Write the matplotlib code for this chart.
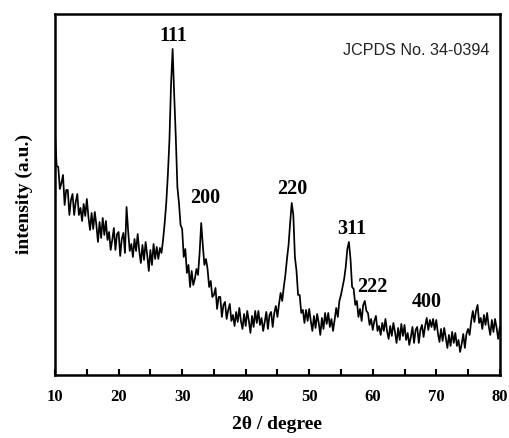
import numpy as np
import matplotlib.pyplot as plt

# 2theta grid, 0.25 degree step, 10 to 80
two_theta = np.arange(10, 80.001, 0.25)

# intensity (arbitrary units), one row per degree
intensity = [
    240, 209, 208, 186,   # 10
    192, 200, 170, 185,   # 11
    185, 160, 175, 181,   # 12
    160, 173, 181, 160,   # 13
    167, 154, 171, 159,   # 14
    176, 158, 145, 162,   # 15
    146, 163, 150, 133,   # 16
    153, 137, 157, 140,   # 17
    154, 135, 143, 125,   # 18
    135, 147, 125, 141,   # 19
    143, 119, 136, 142,   # 20
    122, 168, 144, 124,   # 21
    131, 118, 136, 124,   # 22
    141, 124, 112, 130,   # 23
    115, 133, 120, 104,   # 24
    125, 110, 131, 116,   # 25
    128, 116, 127, 122,   # 26
    135, 152, 172, 200,   # 27
    235, 290, 326, 280,   # 28
    238, 188, 172, 150,   # 29
    146, 118, 126, 102,   # 30
    110, 88, 104, 90,     # 31
    96, 106, 100, 122,    # 32
    152, 130, 110, 116,   # 33
    106, 88, 94, 78,      # 34
    80, 87, 66, 78,       # 35
    78, 58, 70, 73,       # 36
    56, 65, 71, 54,       # 37
    60, 49, 63, 53,       # 38
    67, 54, 46, 61,       # 39
    49, 64, 54, 42,       # 40
    59, 48, 64, 52,       # 41
    64, 50, 57, 44,       # 42
    53, 63, 46, 60,       # 43
    63, 48, 62, 69,       # 44
    58, 71, 82, 74,       # 45
    88, 100, 116, 130,    # 46
    152, 172, 160, 118,   # 47
    104, 80, 80, 62,      # 48
    65, 52, 65, 54,       # 49
    66, 54, 44, 59,       # 50
    47, 61, 52, 40,       # 51
    57, 46, 62, 51,       # 52
    62, 48, 56, 44,       # 53
    55, 67, 58, 74,       # 54
    80, 88, 96, 108,      # 55
    126, 133, 116, 88,    # 56
    86, 70, 74, 58,       # 57
    66, 54, 70, 74,       # 58
    64, 62, 50, 56,       # 59
    45, 54, 59, 44,       # 60
    49, 40, 52, 44,       # 61
    56, 44, 36, 49,       # 62
    39, 52, 43, 32,       # 63
    47, 35, 51, 39,       # 64
    50, 35, 42, 30,       # 65
    38, 48, 32, 45,       # 66
    48, 32, 45, 50,       # 67
    38, 49, 57, 45,       # 68
    55, 48, 56, 45,       # 69
    55, 42, 33, 46,       # 70
    34, 47, 37, 27,       # 71
    40, 29, 43, 32,       # 72
    42, 29, 35, 23,       # 73
    31, 41, 27, 41,       # 74
    46, 40, 54, 64,       # 75
    53, 64, 70, 52,       # 76
    57, 46, 60, 50,       # 77
    62, 49, 40, 55,       # 78
    43, 56, 47, 36,       # 79
    48,                   # 80
]

peak_labels = ["111", "200", "220", "311", "222", "400"]
peak_x = [28.55, 33.6, 47.4, 56.7, 59.9, 68.5]
peak_y = [339, 177, 186, 146, 88, 73]

fig = plt.figure(figsize=(5.1, 4.38), dpi=100)
ax = fig.add_axes([0.108, 0.144, 0.872, 0.824])

ax.plot(two_theta, intensity, color="black", lw=1.25)

serif = "Liberation Serif"
for lab, px, py in zip(peak_labels, peak_x, peak_y):
    ax.text(px, py, lab, ha="center", va="center", fontsize=14.5,
            fontweight="bold", family=serif)

ax.text(78.4, 325, "JCPDS No. 34-0394", ha="right", va="center",
        fontsize=11.6, family="Liberation Sans", color="#222222")

ax.set_xlim(10, 80)
ax.set_ylim(0, 361)
ax.set_xticks(range(10, 81, 10))
ax.set_xticks(range(15, 80, 10), minor=True)
ax.set_yticks([])
ax.tick_params(axis="x", direction="in", length=4, width=1.5, which="both",
               labelsize=12, pad=10)
for t in ax.get_xticklabels():
    t.set_fontweight("bold")
    t.set_family(serif)
for s in ax.spines.values():
    s.set_linewidth(1.8)

ax.set_xlabel("2θ / degree", fontsize=14, fontweight="bold", family=serif,
              labelpad=8)
ax.set_ylabel("intensity (a.u.)", fontsize=14, fontweight="bold", family=serif,
              labelpad=16)

fig.savefig("out.png", dpi=100)
